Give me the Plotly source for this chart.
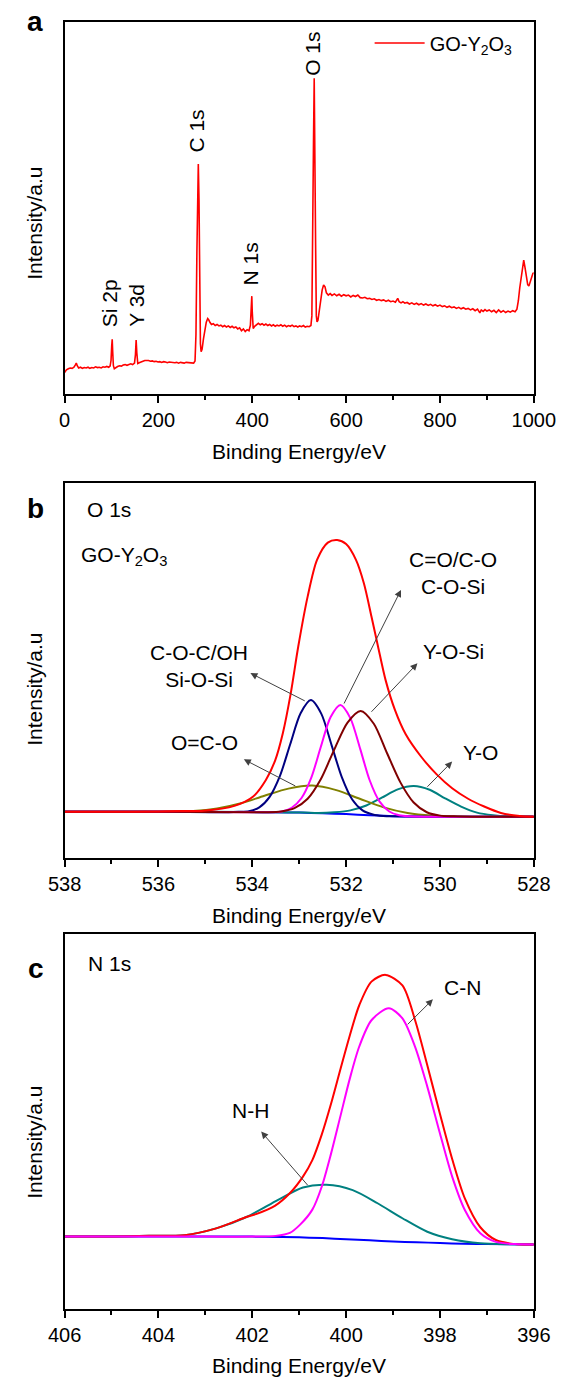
import plotly.graph_objects as go

W, H = 581, 1378
FONT = "Liberation Sans, Arial, sans-serif"

# ---------------- panel a : survey spectrum ----------------
SURVEY_EV = [
    0, 4, 8, 12, 16, 20, 23, 25, 27, 30,
    34, 38, 42, 46, 50, 54, 58, 62, 66, 70,
    74, 78, 82, 86, 90, 94, 97, 99, 100.5, 101.5,
    102.5, 104, 106, 109, 113, 117, 121, 125, 129, 133,
    137, 141, 145, 149, 151, 152.5, 154, 156, 159, 163,
    167, 171, 175, 179, 183, 187, 191, 195, 199, 203,
    207, 211, 215, 219, 223, 227, 231, 235, 239, 243,
    247, 251, 255, 259, 263, 267, 271, 275, 278, 280,
    282, 283.5, 285, 286.5, 288, 289.5, 291, 293, 296, 299,
    302, 305, 307, 310, 313, 317, 321, 325, 329, 333,
    337, 341, 345, 349, 353, 357, 361, 365, 369, 373,
    377, 381, 385, 389, 393, 396, 398, 399, 400, 402,
    405, 409, 413, 417, 421, 425, 429, 433, 437, 441,
    445, 449, 453, 457, 461, 465, 469, 473, 477, 481,
    485, 489, 493, 497, 501, 505, 509, 513, 517, 521,
    525, 527, 529, 530.5, 532, 533.5, 535, 536.5, 538, 540,
    543, 546, 549, 552, 555, 558, 562, 566, 570, 575,
    580, 585, 590, 595, 600, 605, 610, 615, 620, 625,
    630, 635, 640, 645, 650, 655, 660, 665, 670, 675,
    680, 685, 690, 695, 700, 705, 710, 713, 717, 721,
    725, 730, 735, 740, 745, 750, 755, 760, 765, 770,
    775, 780, 785, 790, 795, 800, 805, 810, 815, 820,
    825, 830, 835, 840, 845, 850, 855, 860, 865, 870,
    875, 880, 885, 888, 892, 896, 900, 905, 910, 915,
    920, 925, 930, 935, 940, 945, 950, 955, 960, 964,
    967, 970, 973, 976, 978.5, 981, 984, 987, 989.5, 992,
    995, 998, 1000,
]
SURVEY_INT = [
    5.8, 6.5, 6.8, 7.0, 6.9, 7.2, 7.8, 8.3, 7.6, 7.0,
    7.2, 6.9, 7.1, 7.0, 7.2, 6.9, 7.1, 7.0, 7.3, 7.1,
    7.2, 7.0, 7.3, 7.2, 7.4, 7.2, 7.5, 9.0, 13.0, 14.7,
    11.5, 7.6, 6.8, 7.1, 7.4, 7.6, 7.5, 7.8, 7.9, 7.7,
    8.0, 8.1, 7.9, 8.3, 10.5, 14.5, 11.0, 8.2, 8.4, 8.5,
    8.8, 9.0, 9.1, 9.0, 8.8, 8.9, 8.7, 8.8, 8.6, 8.7,
    8.5, 8.7, 8.6, 8.4, 8.6, 8.5, 8.6, 8.4, 8.5, 8.3,
    8.5, 8.4, 8.3, 8.5, 8.4, 8.3, 8.4, 8.3, 8.9, 16.0,
    38.0, 55.0, 61.8, 52.0, 28.0, 13.5, 11.4, 12.0, 14.8, 17.5,
    19.3, 20.3, 20.0, 19.2, 18.7, 18.9, 18.4, 18.7, 18.3, 18.5,
    18.1, 18.4, 18.0, 18.3, 17.9, 18.2, 17.8, 18.0, 17.5, 17.8,
    17.0, 17.5, 16.8, 17.3, 17.0, 18.5, 24.5, 26.3, 22.0, 17.6,
    18.2, 18.6, 19.0, 18.6, 18.9, 18.5, 18.8, 18.4, 18.7, 18.3,
    18.6, 18.2, 18.5, 18.3, 18.6, 18.2, 18.5, 18.1, 18.4, 18.2,
    18.5, 18.1, 18.3, 18.0, 18.3, 18.1, 18.4, 18.0, 18.2, 18.1,
    18.4, 21.0, 40.0, 68.0, 84.9, 70.0, 40.0, 21.0, 19.4, 19.8,
    22.5, 25.8, 28.0, 29.3, 28.8, 27.2, 26.6, 27.0, 26.5, 26.9,
    26.4, 26.8, 26.3, 26.7, 26.4, 26.6, 26.1, 26.5, 26.2, 26.6,
    25.9, 25.8, 26.0, 25.6, 25.7, 25.4, 25.6, 25.2, 25.4, 25.1,
    25.3, 24.9, 25.2, 24.8, 25.0, 24.7, 25.7, 24.8, 24.5, 24.8,
    24.4, 24.6, 24.2, 24.5, 24.1, 24.4, 24.0, 24.3, 23.9, 24.2,
    23.8, 24.1, 23.7, 24.0, 23.6, 23.9, 23.5, 23.7, 23.3, 23.6,
    23.2, 23.4, 23.0, 23.3, 22.9, 23.2, 22.8, 23.0, 22.6, 22.9,
    22.4, 22.8, 21.8, 22.6, 22.2, 22.7, 22.3, 22.6, 22.1, 22.5,
    21.9, 22.6, 22.0, 22.4, 21.9, 22.3, 22.0, 22.4, 22.1, 22.8,
    25.0, 28.5, 31.5, 35.0, 36.0, 34.2, 31.0, 29.4, 29.0, 30.0,
    31.6, 32.4, 32.6,
]
SURVEY_PEAK_LABELS = ["Si 2p", "Y 3d", "C 1s", "N 1s", "O 1s"]
SURVEY_PEAK_EV = [97.4, 153.0, 281.3, 395.6, 527.8]
SURVEY_PEAK_Y = [24.5, 23.8, 70.7, 34.9, 91.5]

# ---------------- panel b : O 1s ----------------
B_ENV_EV = [538, 537, 536, 535.5, 535.04, 534.38, 533.98, 533.71, 533.51, 533.35,
            533.18, 533.02, 532.82, 532.62, 532.39, 532.19, 532.0, 531.79, 531.62,
            531.46, 531.32, 531.16, 530.96, 530.73, 530.40, 530.07, 529.74, 529.4,
            529.07, 528.7, 528.3, 528]
B_ENV = [12.3, 12.3, 12.4, 12.5, 12.6, 13.9, 16.4, 20.8, 26.1, 33.2,
         43.9, 56.4, 69.7, 79.5, 84.1, 84.8, 83.7, 79.5, 73.2,
         64.4, 56.4, 47.5, 39.5, 33.0, 27.0, 22.3, 18.6, 15.8,
         13.8, 12.0, 11.2, 11.0]

B_COC_EV = [538, 536, 534.5, 534.29, 534.07, 533.85, 533.63, 533.41, 533.19, 532.97,
            532.75, 532.53, 532.31, 532.09, 531.87, 531.65, 531.43, 531.21, 531.0, 529.5, 528]
B_COC = [12.3, 12.3, 12.2, 12.3, 12.5, 13.5, 16.3, 21.9, 30.4, 38.6,
         42.1, 38.5, 30.1, 21.5, 15.6, 12.7, 11.6, 11.2, 11.1, 11.0, 11.0]

B_CO_EV = [538, 536, 534.0, 533.58, 533.37, 533.16, 532.95, 532.74, 532.54, 532.33,
           532.12, 531.91, 531.70, 531.50, 531.29, 531.08, 530.87, 530.66, 530.3, 529, 528]
B_CO = [12.3, 12.3, 12.2, 12.2, 12.4, 13.4, 16.0, 21.5, 29.6, 37.6,
        40.8, 37.3, 29.1, 20.8, 15.1, 12.4, 11.4, 11.1, 11.0, 11.0, 11.0]

B_YOSI_EV = [538, 536, 534.0, 533.67, 533.39, 533.10, 532.82, 532.54, 532.26, 531.97,
             531.69, 531.41, 531.13, 530.84, 530.56, 530.28, 530.0, 529.71, 529.3, 528]
B_YOSI = [12.3, 12.3, 12.2, 12.2, 12.4, 13.3, 15.8, 21.0, 28.7, 36.1,
          39.2, 35.8, 28.0, 20.1, 14.8, 12.2, 11.3, 11.1, 11.0, 11.0]

B_OCO_EV = [538, 536.27, 535.77, 535.26, 534.75, 534.24, 533.74, 533.23, 532.72,
            532.21, 531.71, 531.20, 530.69, 530.18, 529.67, 529.17, 528]
B_OCO = [12.3, 12.3, 12.3, 12.5, 13.2, 14.6, 16.6, 18.5, 19.3,
         18.1, 15.8, 13.5, 12.0, 11.3, 11.1, 11.0, 11.0]

B_YO_EV = [538, 535, 532.92, 532.59, 532.25, 531.91, 531.57, 531.24, 530.90, 530.56,
           530.22, 529.89, 529.55, 529.21, 528.87, 528.54, 528]
B_YO = [12.3, 12.3, 12.1, 12.0, 12.2, 12.7, 14.0, 16.1, 18.3, 19.2,
        18.2, 15.9, 13.7, 12.1, 11.4, 11.1, 11.0]

B_BG_EV = [538, 535, 534, 533.5, 533, 532.5, 532, 531.5, 531, 530.5, 530, 529, 528]
B_BG = [12.3, 12.3, 12.25, 12.2, 12.1, 11.95, 11.7, 11.4, 11.15, 11.05, 11.0, 11.0, 11.0]

# ---------------- panel c : N 1s ----------------
C_ENV_EV = [406, 405, 404.2, 403.44, 402.77, 402.11, 401.92, 401.52, 401.19, 400.92,
            400.72, 400.52, 400.32, 400.12, 399.92, 399.72, 399.46, 399.16, 398.8,
            398.53, 398.27, 398.0, 397.74, 397.47, 397.14, 396.81, 396.4, 396]
C_ENV = [19.3, 19.35, 19.5, 19.7, 21.5, 24.6, 25.3, 27.5, 31.0, 35.3,
         39.7, 46.5, 54.8, 64.0, 73.0, 81.0, 87.3, 89.1, 86.3,
         77.0, 65.0, 52.0, 40.0, 29.5, 21.8, 18.4, 17.3, 17.2]

C_CN_EV = [406, 403, 402, 401.5, 401.2, 400.98, 400.72, 400.52, 400.32, 400.12,
           399.92, 399.72, 399.46, 399.09, 398.8, 398.53, 398.27, 398.0, 397.74,
           397.47, 397.14, 396.81, 396.4, 396]
C_CN = [19.3, 19.3, 19.3, 19.5, 20.3, 22.5, 26.5, 32.6, 41.5, 51.5,
        61.5, 70.0, 77.0, 80.2, 77.5, 69.9, 59.3, 46.8, 35.3,
        26.4, 20.2, 17.9, 17.3, 17.2]

C_NH_EV = [406, 405, 404.2, 403.44, 402.77, 402.11, 401.45, 400.92, 400.42, 399.86,
           399.33, 398.8, 398.27, 397.74, 397.14, 396.5, 396]
C_NH = [19.3, 19.35, 19.5, 19.7, 21.5, 24.6, 29.1, 32.4, 33.1, 31.7,
        28.2, 24.2, 20.6, 18.6, 17.5, 17.25, 17.2]

C_BG_EV = [406, 402, 401, 400.5, 400, 399.5, 399, 398.5, 398, 397.5, 397, 396]
C_BG = [19.3, 19.3, 19.1, 18.9, 18.6, 18.3, 18.0, 17.8, 17.6, 17.4, 17.3, 17.2]

# ---------------- figure ----------------
def px_x(p):
    return p / W


def px_y(p):
    return 1 - p / H


XDOM = [px_x(51), px_x(554)]
YDOM_A = [px_y(394), px_y(22)]
YDOM_B = [px_y(858), px_y(483)]
YDOM_C = [px_y(1309), px_y(934)]

fig = go.Figure()

fig.add_trace(go.Scatter(x=SURVEY_EV, y=SURVEY_INT, mode="lines",
                         line=dict(color="#ff0000", width=1.6),
                         name="GO-Y<sub>2</sub>O<sub>3</sub>",
                         xaxis="x", yaxis="y", showlegend=True))


def comp(xs, ys, color, ax, ay, width=2):
    fig.add_trace(go.Scatter(x=xs, y=ys, mode="lines",
                             line=dict(color=color, width=width, shape="spline", smoothing=0.8),
                             xaxis=ax, yaxis=ay, showlegend=False))


comp(B_BG_EV, B_BG, "#0000ff", "x2", "y2")
comp(B_YO_EV, B_YO, "#008080", "x2", "y2")
comp(B_OCO_EV, B_OCO, "#808000", "x2", "y2")
comp(B_COC_EV, B_COC, "#000080", "x2", "y2")
comp(B_CO_EV, B_CO, "#ff00ff", "x2", "y2")
comp(B_YOSI_EV, B_YOSI, "#800000", "x2", "y2")
comp(B_ENV_EV, B_ENV, "#ff0000", "x2", "y2")

comp(C_BG_EV, C_BG, "#0000ff", "x3", "y3")
comp(C_NH_EV, C_NH, "#008080", "x3", "y3")
comp(C_ENV_EV, C_ENV, "#ff0000", "x3", "y3")
comp(C_CN_EV, C_CN, "#ff00ff", "x3", "y3")


def xaxis(rng, dtick, tick0, minor, anchor):
    return dict(domain=XDOM, range=rng, anchor=anchor, showline=True, linewidth=2,
                linecolor="black", mirror=True, ticks="outside", ticklen=7, tickwidth=2,
                tickcolor="black", dtick=dtick, tick0=tick0,
                tickfont=dict(size=20, color="black", family=FONT),
                minor=dict(ticks="outside", ticklen=4, tickwidth=2, tickcolor="black", dtick=minor),
                showgrid=False, zeroline=False)


def yaxis(dom, anchor):
    return dict(domain=dom, range=[0, 100], anchor=anchor, showline=True, linewidth=2,
                linecolor="black", mirror=True, ticks="", showticklabels=False,
                showgrid=False, zeroline=False)


annos = []
TXT = dict(size=21, color="black", family=FONT)


def text(s, x, y, xanchor="left", size=21, bold=False, angle=0):
    annos.append(dict(text=("<b>%s</b>" % s) if bold else s, x=px_x(x), y=px_y(y),
                      xref="paper", yref="paper", xanchor=xanchor, yanchor="middle",
                      showarrow=False, textangle=angle,
                      font=dict(size=size, color="black", family=FONT)))


# panel letters
text("a", 19, 22, "center", 28, True)
text("b", 20, 508, "center", 28, True)
text("c", 20, 968, "center", 28, True)

# axis titles
for yc in (223, 689, 1142):
    text("Intensity/a.u", 18, yc, "center", 21, angle=-90)
for yc in (451, 915, 1365):
    text("Binding Energy/eV", (51 + 554) / 2, yc, "center", 21)

# survey peak labels
for lab, ev, yv in zip(SURVEY_PEAK_LABELS, SURVEY_PEAK_EV, SURVEY_PEAK_Y):
    annos.append(dict(text=lab, x=ev, y=yv, xref="x", yref="y", xanchor="center",
                      yanchor="middle", showarrow=False, textangle=-90, font=TXT))

# panel b labels
text("O 1s", 73, 510)
text("GO-Y<sub>2</sub>O<sub>3</sub>", 66, 556)
text("C-O-C/OH<br>Si-O-Si", 140, 666)
text("C=O/C-O<br>C-O-Si", 418, 573)
text("Y-O-Si", 433, 651)
text("O=C-O", 163, 743)
text("Y-O", 476, 752)

# panel c labels
text("N 1s", 74, 963)
text("N-H", 228, 1110)
text("C-N", 456, 988)


def arrow(xa, ya, xt, yt, x="x2", y="y2"):
    annos.append(dict(text="", x=xa, y=ya, ax=xt, ay=yt, xref=x, yref=y, axref=x, ayref=y,
                      showarrow=True, arrowhead=2, arrowsize=1.4, arrowwidth=1,
                      arrowcolor="#404040", standoff=0, startstandoff=0))


# arrows: head (near label) <- tail (on curve)
arrow(534.04, 49.3, 532.85, 41.7)
arrow(530.83, 71.5, 532.06, 40.8)
arrow(530.48, 51.9, 531.49, 38.6)
arrow(534.18, 26.3, 533.05, 19.0)
arrow(529.74, 25.7, 530.30, 18.6)
arrow(401.81, 47.3, 400.79, 32.6, "x3", "y3")
arrow(398.15, 82.6, 398.72, 75.5, "x3", "y3")

fig.update_layout(
    width=W, height=H, margin=dict(l=0, r=0, t=0, b=0),
    paper_bgcolor="white", plot_bgcolor="white",
    font=dict(family=FONT, color="black", size=20),
    xaxis=xaxis([0, 1000], 200, 0, 100, "y"),
    yaxis=yaxis(YDOM_A, "x"),
    xaxis2=xaxis([538, 528], 2, 528, 1, "y2"),
    yaxis2=yaxis(YDOM_B, "x2"),
    xaxis3=xaxis([406, 396], 2, 396, 1, "y3"),
    yaxis3=yaxis(YDOM_C, "x3"),
    showlegend=True,
    legend=dict(x=px_x(378), y=px_y(43), xanchor="left", yanchor="middle",
                bgcolor="rgba(0,0,0,0)", borderwidth=0, itemwidth=50,
                font=dict(size=20, family=FONT, color="black")),
    annotations=annos,
)

fig.write_html("out.html",
               config={"displayModeBar": False},
               post_script="document.body.style.margin='0px';"
                           "document.body.style.overflow='hidden';")
